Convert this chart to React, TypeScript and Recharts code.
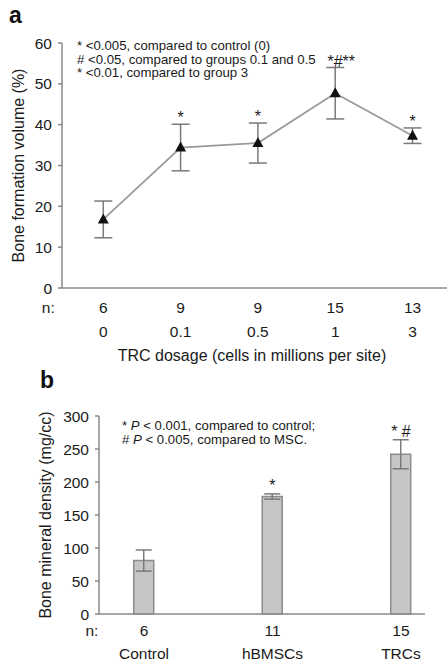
import React from 'react';
import { ComposedChart, Line, Bar, XAxis, YAxis, ErrorBar, LabelList, Label } from 'recharts';

// panel a
const dosages = ['0', '0.1', '0.5', '1', '3'];
const dosageN = ['6', '9', '9', '15', '13'];
const boneVolume = [16.8, 34.4, 35.5, 47.7, 37.3];
const boneVolumeErr = [4.5, 5.7, 4.9, 6.3, 1.9];
const boneVolumeSig = ['', '*', '*', '*#**', '*'];
const volumeTicks = [0, 10, 20, 30, 40, 50, 60];

// panel b
const groups = ['Control', 'hBMSCs', 'TRCs'];
const groupN = ['6', '11', '15'];
const density = [81, 178, 242];
const densityErr = [16, 4, 22];
const densitySig = ['', '*', '* #'];
const densityTicks = [0, 50, 100, 150, 200, 250, 300];

const dataA = dosages.map((d, i) => ({
  idx: i,
  value: boneVolume[i],
  err: boneVolumeErr[i],
  top: boneVolume[i] + boneVolumeErr[i],
  sig: boneVolumeSig[i],
}));

const dataB = groups.map((g, i) => ({
  idx: i,
  value: density[i],
  err: densityErr[i],
  top: density[i] + densityErr[i],
  sig: densitySig[i],
}));

const FONT = '"Liberation Sans", Arial, sans-serif';
const AXIS = '#8a8a8a';
const TEXT = '#1a1a1a';
const TICK_FS = 15.5;
const TITLE_FS = 16;

const tickA = (props: any) => {
  const { x, y, payload, index } = props;
  const i = payload.value;
  return (
    <g>
      {index === 0 && (
        <text x={x - 55} y={y + 25} textAnchor="middle" fontSize={TICK_FS} fill={TEXT} fontFamily={FONT}>n:</text>
      )}
      <text x={x} y={y + 25} textAnchor="middle" fontSize={TICK_FS} fill={TEXT} fontFamily={FONT}>{dosageN[i]}</text>
      <text x={x} y={y + 49} textAnchor="middle" fontSize={TICK_FS} fill={TEXT} fontFamily={FONT}>{dosages[i]}</text>
    </g>
  );
};

const tickB = (props: any) => {
  const { x, y, payload, index } = props;
  const i = payload.value;
  return (
    <g>
      {index === 0 && (
        <text x={x - 52} y={y + 22} textAnchor="middle" fontSize={TICK_FS} fill={TEXT} fontFamily={FONT}>n:</text>
      )}
      <text x={x} y={y + 22} textAnchor="middle" fontSize={TICK_FS} fill={TEXT} fontFamily={FONT}>{groupN[i]}</text>
      <text x={x} y={y + 45} textAnchor="middle" fontSize={TICK_FS} fill={TEXT} fontFamily={FONT}>{groups[i]}</text>
    </g>
  );
};

const triangle = (props: any) => {
  const { cx, cy, index } = props;
  return (
    <polygon
      key={`tri-${index}`}
      points={`${cx},${cy - 6} ${cx - 5.5},${cy + 4} ${cx + 5.5},${cy + 4}`}
      fill="#111"
    />
  );
};

// significance marks sit just above the error bar tops; long marks lean right like the original
const sigLabel = (dy: number) => (props: any) => {
  const { x, y, value } = props;
  if (!value) return null;
  const shift = value.length > 3 ? 6 : 0;
  return (
    <text x={x + shift} y={y + dy} textAnchor="middle" fontSize={16} fill={TEXT} fontFamily={FONT}>{value}</text>
  );
};

const yLabel = (text: string, dx: number) => (props: any) => {
  const { viewBox } = props;
  const cx = viewBox.x + dx;
  const cy = viewBox.y + viewBox.height / 2;
  return (
    <text x={cx} y={cy} transform={`rotate(-90 ${cx} ${cy})`} textAnchor="middle" dominantBaseline="central"
      fontSize={TITLE_FS} fill={TEXT} fontFamily={FONT}>{text}</text>
  );
};

const note: React.CSSProperties = {
  position: 'absolute',
  fontFamily: FONT,
  fontSize: 13.2,
  lineHeight: '13.5px',
  color: TEXT,
  whiteSpace: 'nowrap',
};

export default function App() {
  return (
    <div style={{ position: 'absolute', left: 0, top: 0, width: 447, height: 662, background: '#fff', fontFamily: FONT }}>
      <div style={{ position: 'absolute', left: 9, top: 2, fontSize: 23, fontWeight: 'bold', color: '#111' }}>a</div>
      <div style={{ position: 'absolute', left: 0, top: 0 }}>
        <ComposedChart width={447} height={370} data={dataA} margin={{ top: 43, right: 0, bottom: 0, left: 0 }}>
          <XAxis
            dataKey="idx"
            type="number"
            domain={[-0.534, 4.446]}
            ticks={[0, 1, 2, 3, 4]}
            interval={0}
            height={82}
            tickLine={false}
            tickSize={0}
            tickMargin={0}
            axisLine={{ stroke: AXIS, strokeWidth: 1.5 }}
            tick={tickA}
          >
            <Label
              content={() => (
                <text x={252} y={361} textAnchor="middle" fontSize={TITLE_FS} fill={TEXT} fontFamily={FONT}>
                  TRC dosage (cells in millions per site)
                </text>
              )}
            />
          </XAxis>
          <YAxis
            type="number"
            domain={[0, 60]}
            ticks={volumeTicks}
            width={62}
            tickSize={4}
            tickMargin={6}
            tickLine={{ stroke: AXIS, strokeWidth: 1.5 }}
            axisLine={{ stroke: AXIS, strokeWidth: 1.5 }}
            tick={{ fontSize: TICK_FS, fill: TEXT, fontFamily: FONT }}
          >
            <Label content={yLabel('Bone formation volume (%)', 18)} />
          </YAxis>
          <Line
            dataKey="value"
            stroke="#9a9a9a"
            strokeWidth={1.8}
            dot={triangle}
            activeDot={false}
            isAnimationActive={false}
          >
            <ErrorBar dataKey="err" width={9} stroke="#7a7a7a" strokeWidth={1.5} />
          </Line>
          <Line dataKey="top" stroke="none" dot={false} activeDot={false} isAnimationActive={false}>
            <LabelList dataKey="sig" content={sigLabel(-1)} />
          </Line>
        </ComposedChart>
      </div>
      <div style={{ ...note, left: 77, top: 39 }}>
        * &lt;0.005, compared to control (0)<br />
        # &lt;0.05, compared to groups 0.1 and 0.5<br />
        * &lt;0.01, compared to group 3
      </div>

      <div style={{ position: 'absolute', left: 40, top: 367, fontSize: 23, fontWeight: 'bold', color: '#111' }}>b</div>
      <div style={{ position: 'absolute', left: 0, top: 390 }}>
        <ComposedChart width={447} height={272} data={dataB} margin={{ top: 26, right: 22, bottom: 0, left: 0 }}>
          <XAxis
            dataKey="idx"
            type="number"
            domain={[-0.35, 2.187]}
            ticks={[0, 1, 2]}
            interval={0}
            height={48}
            tickLine={false}
            tickSize={0}
            tickMargin={0}
            axisLine={{ stroke: AXIS, strokeWidth: 1.5 }}
            tick={tickB}
          />
          <YAxis
            type="number"
            domain={[0, 300]}
            ticks={densityTicks}
            width={99}
            tickSize={4}
            tickMargin={6}
            tickLine={{ stroke: AXIS, strokeWidth: 1.5 }}
            axisLine={{ stroke: AXIS, strokeWidth: 1.5 }}
            tick={{ fontSize: TICK_FS, fill: TEXT, fontFamily: FONT }}
          >
            <Label content={yLabel('Bone mineral density (mg/cc)', 45)} />
          </YAxis>
          <Bar dataKey="value" barSize={20} fill="#c6c6c6" stroke="#8c8c8c" strokeWidth={1.5} isAnimationActive={false}>
            <ErrorBar dataKey="err" width={8} stroke="#7a7a7a" strokeWidth={1.5} />
          </Bar>
          <Line dataKey="top" stroke="none" dot={false} activeDot={false} isAnimationActive={false}>
            <LabelList dataKey="sig" content={sigLabel(-3)} />
          </Line>
        </ComposedChart>
      </div>
      <div style={{ ...note, left: 122, top: 419 }}>
        * <i>P</i> &lt; 0.001, compared to control;<br />
        # <i>P</i> &lt; 0.005, compared to MSC.
      </div>
    </div>
  );
}
